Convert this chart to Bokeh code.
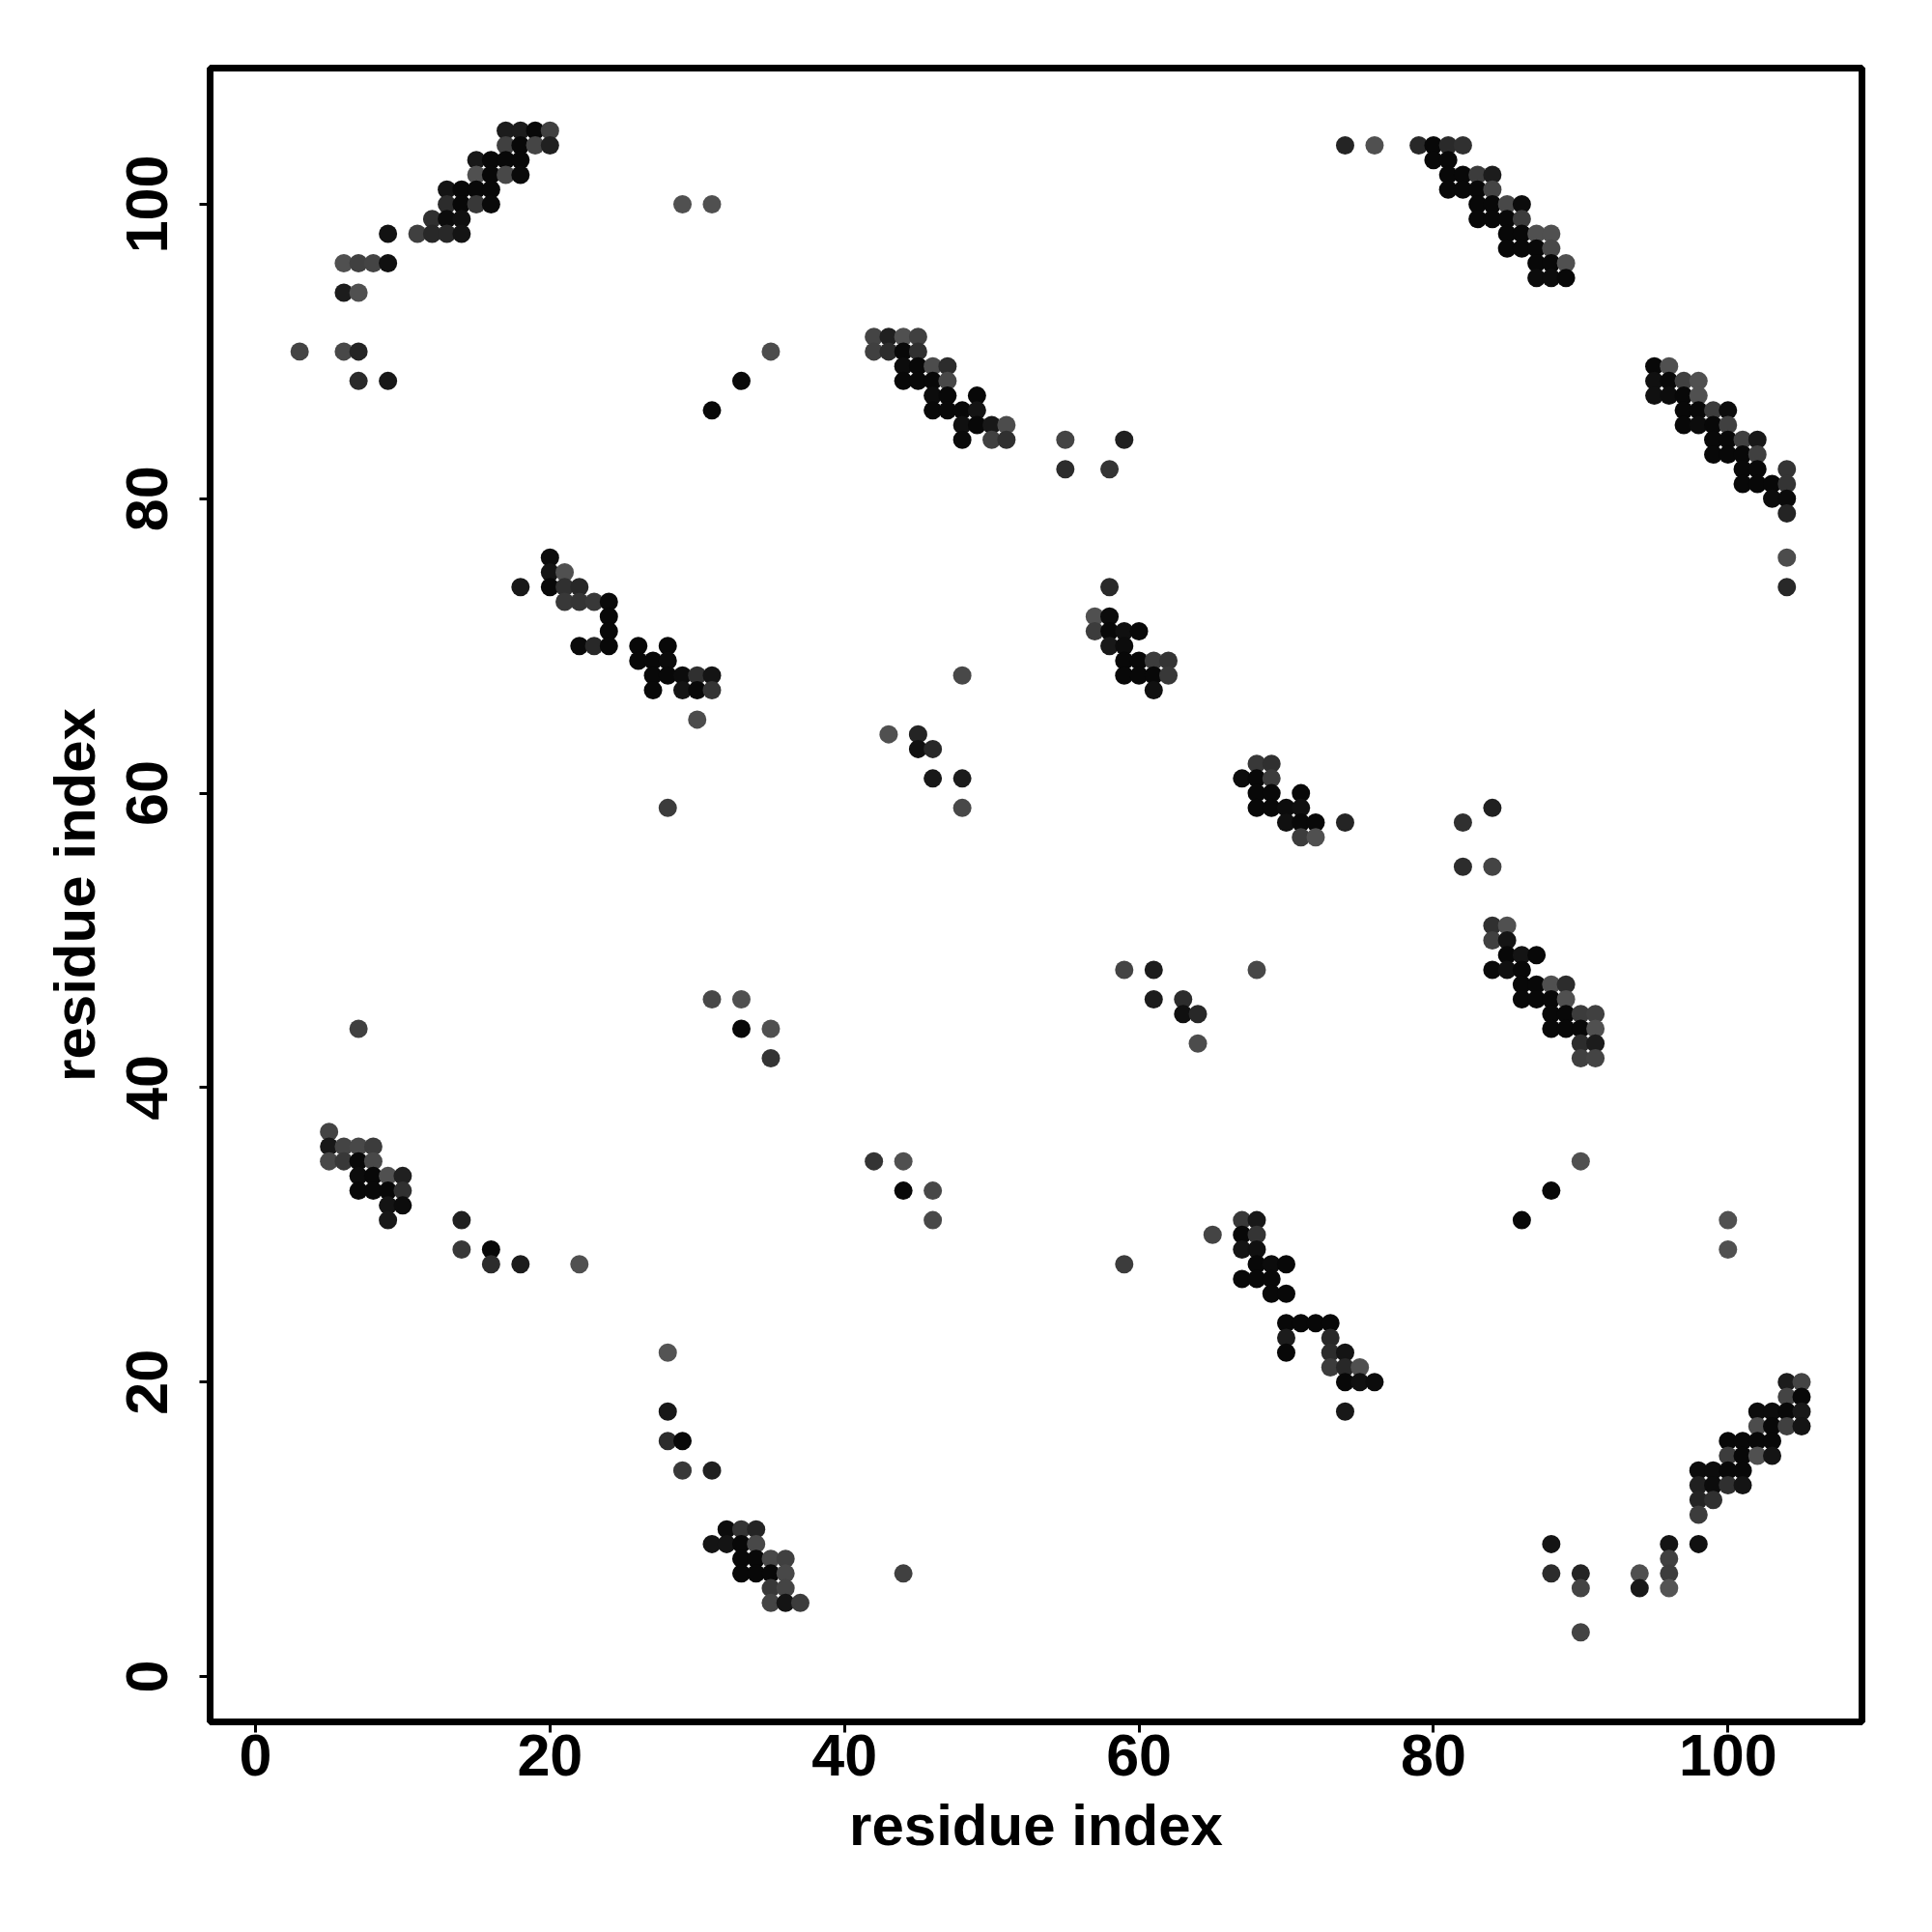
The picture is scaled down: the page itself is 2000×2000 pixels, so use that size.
from bokeh.plotting import figure
from bokeh.models import ColumnDataSource, FixedTicker
from bokeh.embed import file_html
from bokeh.resources import INLINE

tick_values = [0, 20, 40, 60, 80, 100]
axis_title = "residue index"

row_y = [105, 104, 103, 102, 101, 100, 99, 98, 97, 96, 95, 94, 91, 90, 89, 88, 87, 86, 85, 84, 83, 82, 81, 80, 79,
         76, 75, 74, 73, 72, 71, 70, 69, 68, 67, 65, 64, 63, 62, 61, 60, 59, 58, 57, 55, 51, 50, 49, 48, 47, 46, 45,
         44, 43, 42, 37, 36, 35, 34, 33, 32, 31, 30, 29, 28, 27, 26, 24, 23, 22, 21, 20, 19, 18, 17, 16, 15, 14, 13,
         12, 11, 10, 9, 8, 7, 6, 5, 3]

row_x = [
    [17, 18, 19, 20], [17, 18, 19, 20, 74, 76, 79, 80, 81, 82], [15, 16, 17, 18, 80, 81],
    [15, 16, 17, 18, 81, 82, 83, 84], [13, 14, 15, 16, 81, 82, 83, 84], [13, 14, 15, 16, 29, 31, 83, 84, 85, 86],
    [12, 13, 14, 83, 84, 85, 86], [9, 11, 12, 13, 14, 85, 86, 87, 88], [85, 86, 87, 88], [6, 7, 8, 9, 87, 88, 89],
    [87, 88, 89], [6, 7], [42, 43, 44, 45], [3, 6, 7, 35, 42, 43, 44, 45], [44, 45, 46, 47, 95, 96],
    [7, 9, 33, 44, 45, 46, 47, 95, 96, 97, 98], [46, 47, 49, 95, 96, 97, 98], [31, 46, 47, 48, 49, 97, 98, 99, 100],
    [48, 49, 50, 51, 97, 98, 99, 100], [48, 50, 51, 55, 59, 99, 100, 101, 102], [99, 100, 101, 102],
    [55, 58, 101, 102, 104], [101, 102, 103, 104], [103, 104], [104],
    [20, 104], [20, 21], [18, 20, 21, 22, 58, 104], [21, 22, 23, 24], [24, 57, 58], [24, 57, 58, 59, 60],
    [22, 23, 24, 26, 28, 58, 59], [26, 27, 28, 59, 60, 61, 62], [27, 28, 29, 30, 31, 48, 59, 60, 61, 62],
    [27, 29, 30, 31, 61], [30], [43, 45], [45, 46], [68, 69], [46, 48, 67, 68, 69], [68, 69, 71],
    [28, 48, 68, 69, 70, 71, 84], [70, 71, 72, 74, 82], [71, 72], [82, 84], [84, 85], [84, 85], [85, 86, 87],
    [59, 61, 68, 84, 85, 86], [86, 87, 88, 89], [31, 33, 61, 63, 86, 87, 88, 89], [63, 64, 88, 89, 90, 91],
    [7, 33, 35, 88, 89, 90, 91], [64, 90, 91], [35, 90, 91], [5], [5, 6, 7, 8], [5, 6, 7, 8, 42, 44, 90],
    [7, 8, 9, 10], [7, 8, 9, 10, 44, 46, 88], [9, 10], [9, 14, 46, 67, 68, 86, 100], [65, 67, 68],
    [14, 16, 67, 68, 100], [16, 18, 22, 59, 68, 69, 70], [67, 68, 69], [69, 70], [70, 71, 72, 73], [70, 73],
    [28, 70, 73, 74], [73, 74, 75], [74, 75, 76, 104, 105], [104, 105], [28, 74, 102, 103, 104, 105],
    [102, 103, 104, 105], [28, 29, 100, 101, 102, 103], [100, 101, 102, 103], [29, 31, 98, 99, 100, 101],
    [98, 99, 100, 101], [98, 99], [98], [32, 33, 34], [31, 32, 33, 34, 88, 96, 98], [33, 34, 35, 36, 96],
    [33, 34, 35, 36, 44, 88, 90, 94, 96], [35, 36, 90, 94, 96], [35, 36, 37], [90],
]

row_shade = [
    [0x1c, 0x1c, 0x08, 0x40], [0x40, 0x08, 0x45, 0x20, 0x24, 0x50, 0x28, 0x08, 0x2a, 0x30],
    [0x18, 0x08, 0x08, 0x08, 0x08, 0x08], [0x50, 0x08, 0x48, 0x0a, 0x08, 0x08, 0x3c, 0x1c],
    [0x14, 0x08, 0x08, 0x08, 0x08, 0x08, 0x08, 0x44], [0x2c, 0x08, 0x38, 0x0a, 0x50, 0x50, 0x08, 0x08, 0x48, 0x0c],
    [0x30, 0x0c, 0x10, 0x08, 0x08, 0x08, 0x3c], [0x12, 0x40, 0x28, 0x28, 0x14, 0x08, 0x08, 0x50, 0x50],
    [0x08, 0x08, 0x08, 0x48], [0x50, 0x40, 0x44, 0x10, 0x08, 0x08, 0x50], [0x0c, 0x0c, 0x08], [0x1c, 0x50],
    [0x44, 0x20, 0x50, 0x40], [0x44, 0x48, 0x24, 0x4c, 0x40, 0x2c, 0x08, 0x30], [0x0c, 0x08, 0x4c, 0x2c, 0x08, 0x50],
    [0x2a, 0x18, 0x0a, 0x08, 0x08, 0x08, 0x48, 0x10, 0x08, 0x40, 0x50], [0x0c, 0x08, 0x08, 0x10, 0x0c, 0x08, 0x50],
    [0x08, 0x08, 0x08, 0x08, 0x14, 0x08, 0x08, 0x3c, 0x0c], [0x10, 0x08, 0x18, 0x4c, 0x08, 0x0c, 0x08, 0x40],
    [0x0a, 0x40, 0x30, 0x44, 0x20, 0x08, 0x08, 0x40, 0x18], [0x08, 0x08, 0x08, 0x40], [0x2c, 0x34, 0x08, 0x08, 0x34],
    [0x08, 0x08, 0x08, 0x34], [0x0c, 0x0a], [0x24],
    [0x0c, 0x4c], [0x14, 0x50], [0x18, 0x08, 0x30, 0x28, 0x2a, 0x28], [0x38, 0x34, 0x38, 0x0a], [0x08, 0x50, 0x0c],
    [0x08, 0x3c, 0x08, 0x10, 0x08], [0x0a, 0x28, 0x08, 0x08, 0x08, 0x18, 0x0c],
    [0x08, 0x08, 0x0a, 0x08, 0x08, 0x3c, 0x34], [0x08, 0x08, 0x0c, 0x30, 0x14, 0x48, 0x08, 0x08, 0x08, 0x38],
    [0x08, 0x14, 0x08, 0x34, 0x10], [0x4c], [0x50, 0x24], [0x10, 0x28], [0x38, 0x30],
    [0x18, 0x1c, 0x0c, 0x08, 0x3c], [0x08, 0x08, 0x08], [0x3c, 0x48, 0x08, 0x08, 0x0c, 0x10, 0x20],
    [0x10, 0x08, 0x08, 0x24, 0x30], [0x3c, 0x50], [0x2c, 0x44], [0x30, 0x50], [0x40, 0x14], [0x08, 0x14, 0x08],
    [0x44, 0x1c, 0x48, 0x0a, 0x10, 0x08], [0x08, 0x08, 0x50, 0x2c], [0x48, 0x50, 0x1c, 0x2c, 0x08, 0x08, 0x08, 0x50],
    [0x10, 0x28, 0x08, 0x08, 0x3c, 0x40], [0x40, 0x08, 0x50, 0x08, 0x08, 0x08, 0x50], [0x4c, 0x2c, 0x1c],
    [0x34, 0x40, 0x44], [0x44], [0x18, 0x44, 0x48, 0x3c], [0x48, 0x38, 0x08, 0x48, 0x34, 0x50, 0x50],
    [0x0c, 0x08, 0x50, 0x20], [0x08, 0x08, 0x08, 0x30, 0x08, 0x48, 0x08], [0x14, 0x0c],
    [0x18, 0x20, 0x48, 0x38, 0x18, 0x08, 0x50], [0x44, 0x08, 0x34], [0x38, 0x08, 0x14, 0x10, 0x50],
    [0x2c, 0x1c, 0x50, 0x3c, 0x08, 0x0c, 0x08], [0x08, 0x08, 0x08], [0x08, 0x08], [0x08, 0x08, 0x08, 0x08],
    [0x1c, 0x28], [0x54, 0x08, 0x2c, 0x14], [0x3c, 0x28, 0x50], [0x08, 0x10, 0x0c, 0x1c, 0x44], [0x44, 0x08],
    [0x18, 0x18, 0x0c, 0x0c, 0x08, 0x18], [0x4c, 0x08, 0x40, 0x14], [0x2c, 0x08, 0x08, 0x08, 0x08, 0x08],
    [0x3c, 0x08, 0x50, 0x14], [0x38, 0x20, 0x0c, 0x0c, 0x08, 0x08], [0x20, 0x0c, 0x30, 0x14], [0x24, 0x30], [0x3c],
    [0x0c, 0x34, 0x24], [0x14, 0x14, 0x08, 0x48, 0x14, 0x14, 0x10], [0x08, 0x08, 0x48, 0x40, 0x40],
    [0x08, 0x08, 0x08, 0x48, 0x40, 0x2c, 0x24, 0x50, 0x3c], [0x38, 0x44, 0x44, 0x18, 0x54], [0x44, 0x14, 0x3c], [0x44],
]

xs, ys, colors = [], [], []
for y, row, shades in zip(row_y, row_x, row_shade):
    for x, s in zip(row, shades):
        xs.append(x)
        ys.append(y)
        colors.append(f"#{s:02x}{s:02x}{s:02x}")

source = ColumnDataSource(dict(x=xs, y=ys, color=colors))

p = figure(width=1984, height=1984, output_backend="svg", toolbar_location=None,
           x_range=(-3.08, 109.1), y_range=(-3.08, 109.25),
           min_border_left=217, min_border_right=57, min_border_top=70, min_border_bottom=202)
p.scatter("x", "y", source=source, size=19, color="color", line_color=None)

p.grid.visible = False
p.background_fill_color = "white"
p.border_fill_color = "white"
p.outline_line_color = "black"
p.outline_line_width = 7
p.outline_line_alpha = 1

for ax in (p.xaxis[0], p.yaxis[0]):
    ax.ticker = FixedTicker(ticks=tick_values)
    ax.axis_label = axis_title
    ax.axis_line_color = None
    ax.major_tick_line_color = "black"
    ax.major_tick_line_width = 3
    ax.major_tick_out = 11
    ax.major_tick_in = 0
    ax.minor_tick_line_color = None
    ax.major_label_text_font = "Liberation Sans"
    ax.major_label_text_font_style = "bold"
    ax.major_label_text_font_size = "61px"
    ax.major_label_text_color = "black"
    ax.axis_label_text_font = "Liberation Sans"
    ax.axis_label_text_font_style = "bold"
    ax.axis_label_text_font_size = "60px"
    ax.axis_label_text_color = "black"

p.xaxis[0].major_label_standoff = 2
p.xaxis[0].axis_label_standoff = 15
p.yaxis[0].major_label_orientation = "vertical"
p.yaxis[0].major_label_standoff = 33
p.yaxis[0].axis_label_standoff = 18

open("out.html", "w").write(file_html(p, INLINE))
